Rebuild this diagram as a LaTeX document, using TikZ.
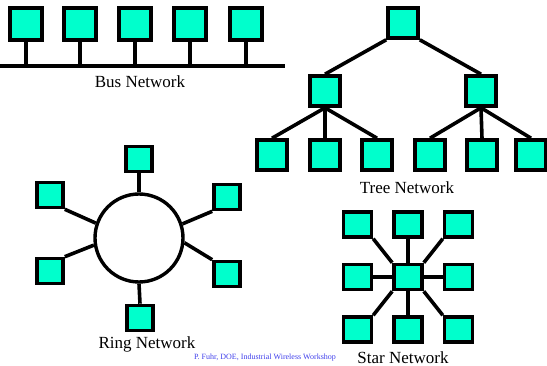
\documentclass[tikz,border=0pt]{standalone}
\usepackage{fontspec}
\setmainfont{Liberation Serif}
\usetikzlibrary{positioning}
\definecolor{nodecyan}{RGB}{0,255,204}
\definecolor{creditblue}{RGB}{64,64,235}

\begin{document}
\begin{tikzpicture}[
    x=1pt, y=-1pt,
    % --- STYLES ---
    box/.style={draw, rectangle, line width=3.6pt, fill=nodecyan, inner sep=0pt, minimum width=32pt, minimum height=32pt},
    treebox/.style={box, minimum width=30pt, minimum height=30pt},
    ringbox/.style={box, minimum width=26pt, minimum height=25pt},
    starbox/.style={box, minimum width=28pt, minimum height=25pt},
    ring/.style={draw, circle, line width=3.4pt, fill=white, inner sep=0pt, minimum size=88pt},
    link/.style={line width=3.6pt},
    caption/.style={font=\fontsize{17}{20}\selectfont},
    credit/.style={font=\fontsize{8}{9}\selectfont, text=creditblue}
]
    \useasboundingbox (0,0) rectangle (547,366);

    % --- NODES ---

    % Bus network
    \node[box] (bus1) at (26,24) {};
    \node[box] (bus2) at (80,24) {};
    \node[box] (bus3) at (135,24) {};
    \node[box] (bus4) at (190,24) {};
    \node[box] (bus5) at (246,24) {};
    \coordinate (busW) at (0,66);
    \coordinate (busE) at (285,66);
    \node[caption] (buslabel) at (140,82) {Bus Network};

    % Tree network
    \node[treebox] (root) at (403,23) {};
    \node[treebox] (midL) at (325,91) {};
    \node[treebox] (midR) at (481,91) {};
    \node[treebox] (leaf1) at (272,155) {};
    \node[treebox] (leaf2) at (325,155) {};
    \node[treebox] (leaf3) at (377,155) {};
    \node[treebox] (leaf4) at (430,155) {};
    \node[treebox] (leaf5) at (482,155) {};
    \node[treebox] (leaf6) at (531,155) {};
    \node[caption] (treelabel) at (407,188) {Tree Network};

    % Ring network
    \node[ring] (ring) at (139,238) {};
    \node[ringbox] (rTop) at (139,159) {};
    \node[ringbox] (rBot) at (140,318) {};
    \node[ringbox] (rLU) at (50,195) {};
    \node[ringbox] (rLL) at (50,271) {};
    \node[ringbox] (rRU) at (227,197) {};
    \node[ringbox] (rRL) at (227,274) {};
    \node[caption] (ringlabel) at (147,344) {Ring Network};

    % Star network (hub in the middle, the rest placed round it)
    \node[starbox] (hub) at (408,277) {};
    \node[starbox, above=24pt of hub] (sN) {};
    \node[starbox, below=24pt of hub] (sS) {};
    \node[starbox, left=19pt of hub] (sW) {};
    \node[starbox, right=19pt of hub] (sE) {};
    \node[starbox, above=24pt of sW] (sNW) {};
    \node[starbox, above=24pt of sE] (sNE) {};
    \node[starbox, below=24pt of sW] (sSW) {};
    \node[starbox, below=24pt of sE] (sSE) {};
    \node[caption] (starlabel) at (403,358) {Star Network};

    \node[credit] (credit) at (265,358) {P. Fuhr, DOE, Industrial Wireless Workshop};

    % --- CONNECTORS ---

    % Bus
    \draw[link] (busW) -- (busE);
    \draw[link] (bus1.south) -- (bus1.south |- busW);
    \draw[link] (bus2.south) -- (bus2.south |- busW);
    \draw[link] (bus3.south) -- (bus3.south |- busW);
    \draw[link] (bus4.south) -- (bus4.south |- busW);
    \draw[link] (bus5.south) -- (bus5.south |- busW);

    % Tree
    \draw[link] (root.south west) -- (midL.north);
    \draw[link] (root.south east) -- (midR.north);
    \draw[link] (midL.south) -- (leaf1.north);
    \draw[link] (midL.south) -- (leaf2.north);
    \draw[link] (midL.south) -- (leaf3.north);
    \draw[link] (midR.south) -- (leaf4.north);
    \draw[link] (midR.south) -- (leaf5.north);
    \draw[link] (midR.south) -- (leaf6.north);

    % Ring
    \draw[link] (ring.north) -- (rTop.south);
    \draw[link] (ring.south) -- (rBot.north);
    \draw[link] (ring.161) -- (rLU.south east);
    \draw[link] (ring.189) -- (rLL.north east);
    \draw[link] (ring.18) -- (rRU.south west);
    \draw[link] (ring.-6) -- (rRL.north west);

    % Star
    \draw[link] (hub.north) -- (sN.south);
    \draw[link] (hub.south) -- (sS.north);
    \draw[link] (hub.west) -- (sW.east);
    \draw[link] (hub.east) -- (sE.west);
    \draw[link] (hub.north west) -- (sNW.south east);
    \draw[link] (hub.north east) -- (sNE.south west);
    \draw[link] (hub.south west) -- (sSW.north east);
    \draw[link] (hub.south east) -- (sSE.north west);

\end{tikzpicture}
\end{document}
